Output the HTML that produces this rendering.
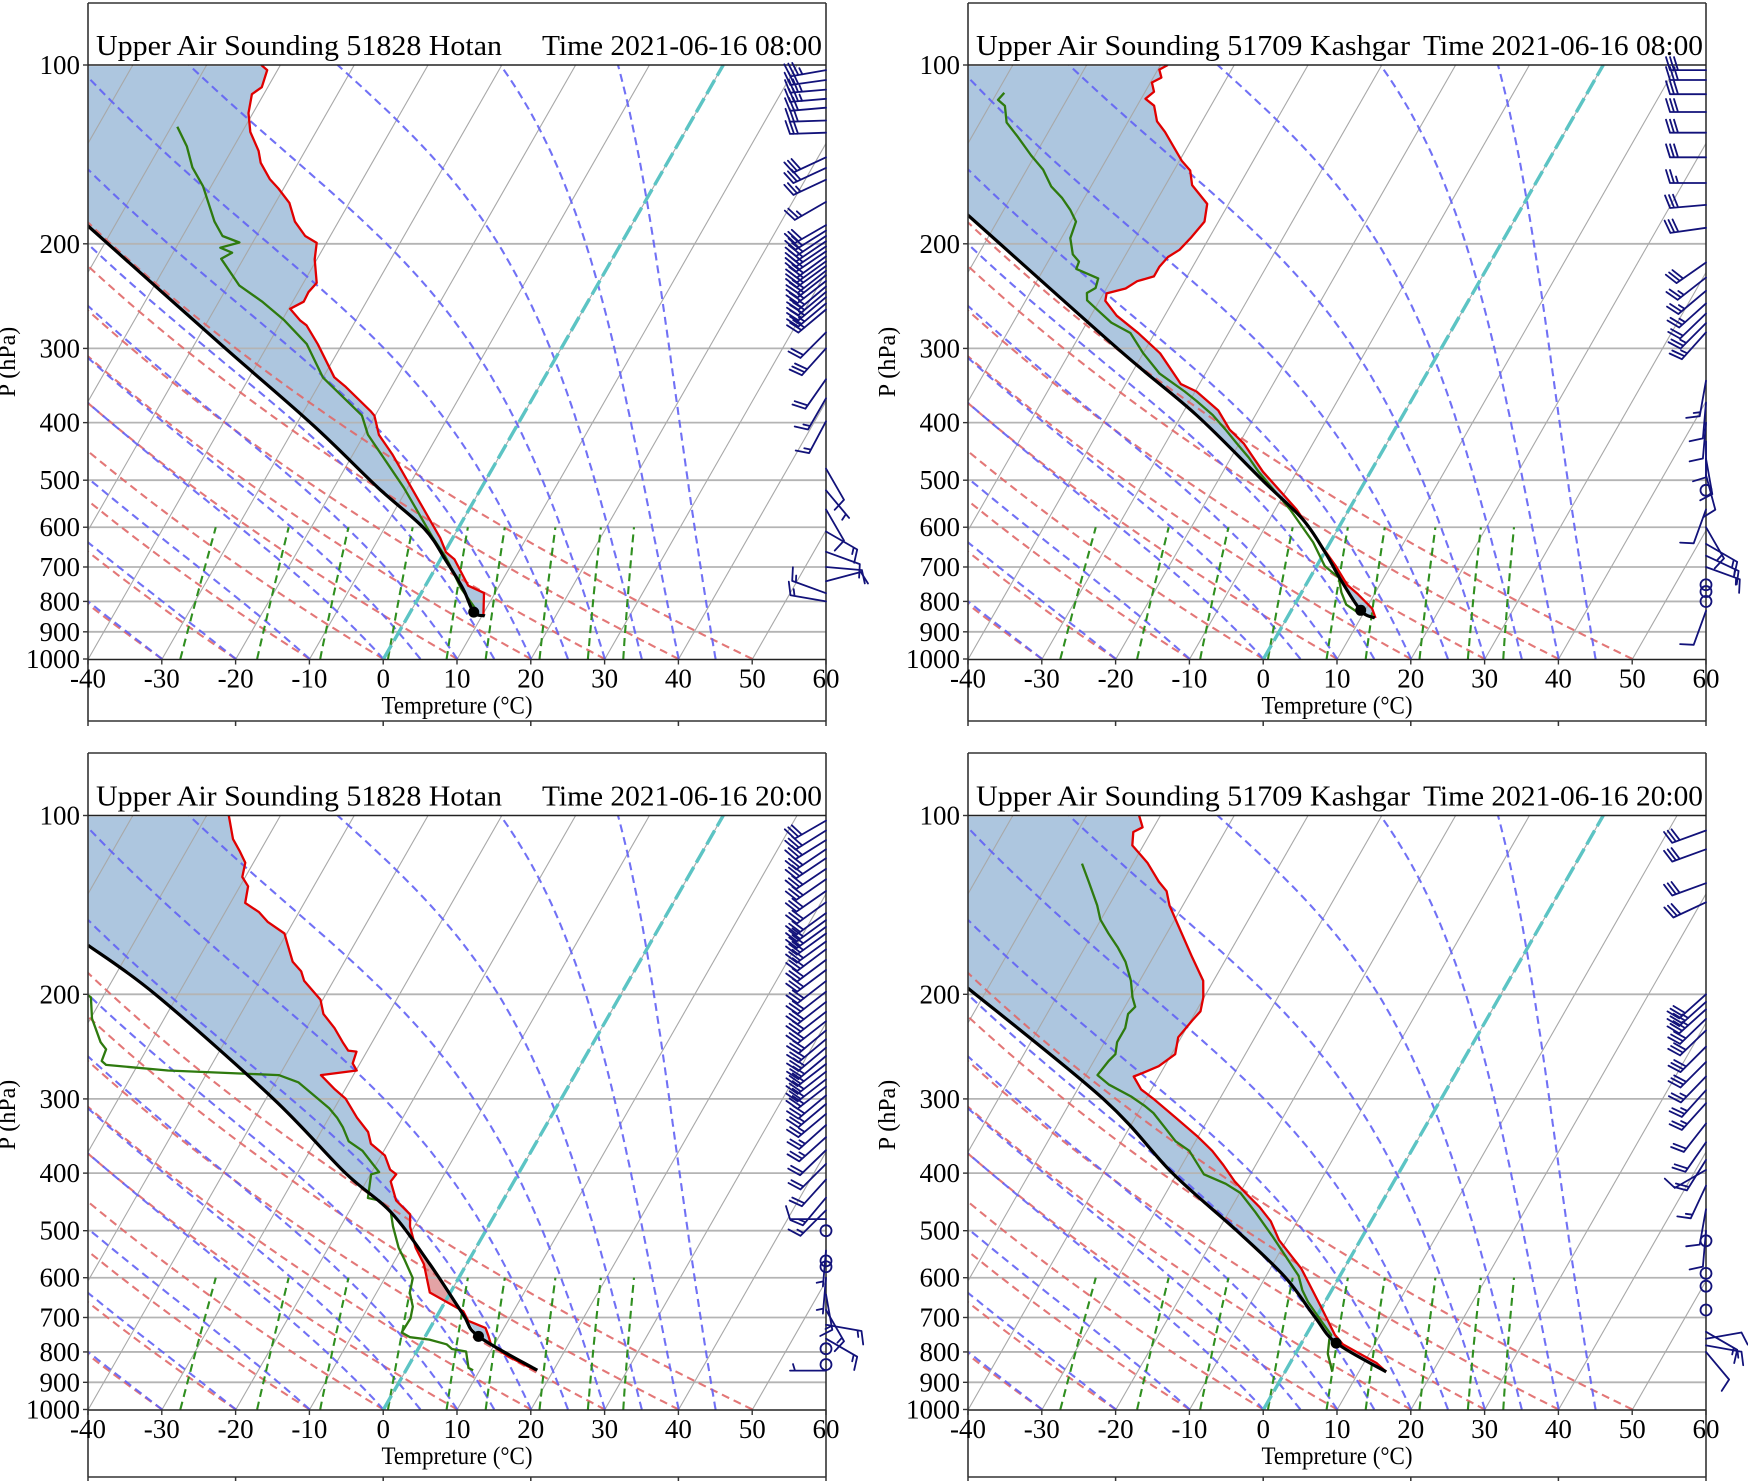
<!DOCTYPE html>
<html><head><meta charset="utf-8"><title>Upper Air Soundings</title>
<style>
html,body{margin:0;padding:0;background:#fff;}
svg{display:block;font-family:"Liberation Serif","DejaVu Serif",serif;}
</style></head>
<body>
<svg id="chart" width="1748" height="1481" viewBox="0 0 1748 1481" xmlns="http://www.w3.org/2000/svg"></svg>
<script>
// ---------- shared axis data ----------
const pressureTicks = [100,200,300,400,500,600,700,800,900,1000];
const tempTicks = [-40,-30,-20,-10,0,10,20,30,40,50,60];
const isothermValues = [-110,-100,-90,-80,-70,-60,-50,-40,-30,-20,-10,0,10,20,30,40,50,60];
const dryAdiabatT0 = [-30,-20,-10,0,10,20,30,40,50];
const moistAdiabatT0 = [-30,-20,-10,0,5,10,15,20,25,30,35,40,45];
const mixingRatios = [0.0004,0.001,0.002,0.004,0.007,0.01,0.016,0.024,0.032];

// ---------- Panel 1: Hotan 08:00 ----------
const hotan08Temp = [[100,-62.6],[102,-61.4],[109,-60.8],[112,-61.6],[120.5,-60.6],[129.6,-58.9],[139.5,-56.3],[146.1,-55.1],[155.6,-52.6],[161.4,-50.7],[170.7,-48.1],[183.5,-45.9],[194,-43.4],[199.3,-41.3],[212.4,-40.3],[232.7,-38.2],[241.3,-38.6],[250.3,-38.5],[257.3,-39.8],[269.3,-37.5],[274.3,-36.3],[295.1,-33.3],[335.6,-28.5],[348.3,-26.2],[382.2,-21.0],[389.3,-20.1],[419.3,-18],[451.9,-14.7],[514.7,-9.5],[625.3,-1.7],[661.1,0.2],[679.7,1.9],[752.6,5.8],[774.1,8.5],[846,10.2]];
const hotan08Dew = [[127,-69.2],[137,-66.4],[148.7,-64],[160,-61.1],[183.5,-56.8],[194,-54.6],[199,-51.8],[203,-54],[207,-52],[212,-53],[235,-48.5],[250,-44.2],[269,-39.7],[295,-34.8],[336,-30],[389,-21.8],[419,-19.5],[515,-10.5],[625,-2.7],[670,0.3],[691,1.5],[760,5],[820,8.4],[840,9.0]];
const hotan08Parcel = [[186.3,-73.7],[295,-46.5],[403,-27.8],[515,-14],[603,-4.6],[684,0.9],[763,5.4],[834,8.6],[846,10.4]];
const hotan08Lcl = [834,8.6];
const hotan08WindP = [102,106,110,114,118,124,130,143,149,156,170,186,190,194,198,202,206,210,214,218,222,226,231,236,241,246,252,258,282,300,338,364,398,478,520,560,610,660,700,740,775,800];
const hotan08WindDir = [260,262,265,265,265,268,268,245,245,245,240,240,238,236,236,236,236,234,234,234,232,232,232,230,230,230,230,230,225,222,215,210,208,150,140,150,120,110,95,75,290,280];
const hotan08WindSpd = [35,30,35,35,30,30,30,30,30,25,25,30,30,30,25,25,30,30,25,25,30,30,25,25,30,25,25,30,20,30,20,15,15,10,5,10,15,10,10,10,15,15];

// ---------- Panel 2: Kashgar 08:00 ----------
const kashgar08Temp = [[100,-59],[101.8,-59.8],[105,-58.9],[107,-59.8],[110.9,-58.8],[114,-59.4],[117.1,-57.7],[124.4,-56.1],[129.6,-54.2],[144.9,-49.7],[150.5,-47.8],[159.3,-46.4],[171.3,-42.9],[183.5,-41.9],[195.6,-42.5],[204.7,-43.1],[210.5,-44.1],[218.5,-44.5],[226.9,-44.5],[231.2,-46.4],[237.8,-47.4],[242.4,-49.6],[249.4,-49.2],[264.3,-46.5],[282.8,-42.2],[305.7,-37.7],[344.5,-32.5],[354.6,-29.8],[381.5,-25.4],[410.6,-22.4],[433.5,-19.4],[483.8,-14.6],[560.1,-7.1],[636.5,-1.5],[697.5,2.6],[750.4,5.6],[778.3,7.8],[822.2,10.8],[853,12]];
const kashgar08Dew = [[111.4,-79],[114.5,-79.3],[117.2,-77.9],[124.9,-76.4],[132,-73.8],[142,-70.5],[150,-67.8],[160.1,-65.4],[167.5,-63],[175.3,-61],[183.5,-59.3],[195.6,-58.8],[208.4,-57.2],[214.3,-55.8],[220.4,-55.6],[228.7,-51.9],[237.4,-51.5],[242,-52.3],[249,-51.7],[258.7,-49.5],[271.4,-46.7],[282.6,-43.3],[305.6,-40],[330.8,-36.2],[354.6,-31.4],[367.7,-29.1],[388.3,-25.8],[410.4,-23],[433.8,-20.3],[458,-17.6],[483.7,-15.2],[560,-8],[636.4,-2.3],[697.5,1.1],[729.4,3.9],[772.4,5.4],[810,7],[841,9.7]];
const kashgar08Parcel = [[178.5,-74.6],[300.8,-43.7],[388.3,-28],[501.9,-13.8],[580.8,-5.6],[660,0],[736.8,4.4],[829.9,9.5],[852.8,11.9]];
const kashgar08Lcl = [828,9.4];
const kashgar08WindP = [102,106,112,120,130,143,158,172,188,215,228,240,252,262,272,282,340,370,400,430,460,490,520,560,600,640,670,700,750,770,800,830];
const kashgar08WindDir = [270,270,270,270,270,270,270,265,262,235,232,230,228,226,225,222,190,185,185,180,170,165,0,200,150,120,115,110,0,0,0,200];
const kashgar08WindSpd = [30,30,30,30,30,30,25,30,30,30,25,25,25,20,25,25,15,10,10,10,10,10,0,10,15,15,15,15,0,0,0,10];

// ---------- Panel 3: Hotan 20:00 ----------
const hotan20Temp = [[100,-67],[104.7,-65.8],[109.6,-64.6],[114.7,-62.8],[120.1,-61.1],[126.9,-60.4],[131.6,-58.9],[140.3,-58],[145.5,-55.4],[151,-53.5],[158,-50.3],[164,-49.2],[176.3,-47],[183,-45.1],[189.7,-44],[204.2,-40.3],[215.8,-38.8],[228,-36.2],[240.8,-34],[248.8,-32.6],[249.7,-31.4],[261.4,-31],[268.7,-29.9],[273.6,-34.4],[289.1,-31.4],[299.9,-29.2],[322.7,-26.2],[341,-23.6],[356.9,-22.3],[373.6,-19.5],[394.6,-17.7],[401.9,-16.5],[413.1,-16.7],[444.6,-14.5],[469.6,-11.5],[491.7,-10.6],[533.8,-8.2],[569.1,-5.8],[635.3,-2.8],[659,0.2],[683.5,3.2],[709,4.6],[728.7,7.5],[751.6,8.5],[776.7,9.5],[813.2,12.7],[859,17.6]];
const hotan20Dew = [[200.6,-72.2],[202.3,-71.6],[219.7,-69.8],[240.8,-66.8],[247.5,-65.5],[259,-65.2],[262.9,-64.3],[268.7,-55.5],[273.6,-40.1],[281.3,-36.9],[294.4,-34.1],[311.1,-30.7],[322.7,-28.9],[334.6,-27.4],[353.6,-25.5],[366.8,-22.9],[387.6,-20.3],[398.4,-19],[401.9,-19.9],[440.5,-18.5],[444.6,-16.8],[465.3,-14.3],[491.7,-12.9],[533.8,-10.5],[558.8,-8.8],[601.2,-6.2],[635.3,-5.5],[671.1,-4],[702.6,-3.4],[742,-3.5],[755.7,-2],[762.7,0.8],[776.7,3.5],[791.1,4.6],[798.5,6.7],[851.1,8.3],[859,9.1]];
const hotan20Parcel = [[165.4,-76],[200.6,-62.9],[299.9,-39],[400.5,-23.4],[465.3,-14.3],[569.1,-5],[689.7,3.3],[753,7.2],[859,17.8]];
const hotan20Lcl = [753,7.2];
const hotan20WindP = [102,106,110,114,118,123,128,134,140,146,150,154,158,163,168,175,182,190,198,206,214,222,230,238,246,254,262,270,278,286,296,306,318,332,348,366,386,410,440,462,478,500,540,562,575,600,640,680,720,760,790,840,860];
const hotan20WindDir = [240,238,238,236,236,236,235,235,234,234,234,234,234,234,233,233,233,232,232,232,232,232,230,230,230,230,232,232,232,232,230,230,230,228,228,226,225,222,220,225,270,0,185,0,0,185,170,150,100,120,0,0,270];
const hotan20WindSpd = [30,30,30,30,30,30,30,30,30,30,30,30,30,30,30,30,30,30,30,30,30,30,30,30,30,30,30,30,30,30,30,25,25,25,25,20,20,20,15,15,10,0,5,0,0,5,15,15,15,15,0,0,5];

// ---------- Panel 4: Kashgar 20:00 ----------
const kashgar20Temp = [[100,-62.9],[104.7,-61.5],[106.6,-62.4],[112.3,-61.5],[120.1,-58.1],[129.2,-55.1],[134.1,-53.3],[141.7,-51.8],[152.6,-49.2],[173.3,-44.7],[189.7,-41.4],[202.3,-40.1],[213.6,-39.4],[221.4,-39.8],[236.3,-40.4],[252.3,-39.5],[264.3,-40.8],[271.5,-42.5],[275,-43.4],[289.1,-41.4],[299.9,-39],[322.7,-34.5],[347.6,-30],[366.8,-27],[387.6,-24.4],[412.9,-21.6],[432,-19.2],[456.4,-16.2],[482.1,-13.6],[518.8,-11],[548.1,-8.4],[579.1,-5.8],[671.1,-0.2],[748.9,3.9],[776.7,5.7],[834.9,11.7],[864,13.7]];
const kashgar20Dew = [[120.5,-66.9],[129.2,-64.6],[141.7,-61.6],[149.6,-60.1],[158,-57.9],[167,-55.5],[176.3,-53.4],[189.7,-51.2],[202.3,-49.7],[209.9,-48.6],[215.8,-49],[228,-48.3],[236.3,-48.3],[240.8,-48.3],[252.3,-47.6],[259,-48],[273.6,-48.4],[283.9,-46.1],[297.2,-42.2],[308.3,-39.6],[316.8,-37.9],[334.6,-35.3],[353.6,-32.7],[366.8,-30.1],[401.9,-26.3],[416.9,-22.6],[432,-19.9],[465.3,-16.4],[510,-12.3],[595.6,-5.6],[629.5,-4],[659,-2.3],[696.1,0.1],[748.9,3.4],[762.7,3.5],[805.8,4.4],[864,6.4]];
const kashgar20Parcel = [[195,-72.8],[299.9,-45.8],[400.5,-30.6],[500.7,-17.4],[597.8,-7.4],[698.8,-0.2],[772.6,4.7],[864,13.7]];
const kashgar20Lcl = [773,4.7];
const kashgar20WindP = [106,114,130,140,200,206,212,220,230,245,260,275,290,305,330,355,380,395,420,460,500,520,590,620,680,740,760,780,800];
const kashgar20WindDir = [250,250,250,245,228,228,228,226,226,225,225,224,222,222,218,215,212,240,205,190,185,0,0,0,0,120,80,100,140];
const kashgar20WindSpd = [30,30,30,30,30,35,35,30,30,30,30,25,25,25,20,20,20,10,15,10,10,0,0,0,0,15,10,15,10];

// ---------- layout ----------
const NS = 'http://www.w3.org/2000/svg';
const svg = document.getElementById('chart');
const panels = [
  {key:'hotan-0800', xL:88, y100:65, y1000:659.5, top:3, bot:721, titleA:'Upper Air Sounding  51828 Hotan', titleALen:406, titleB:'Time 2021-06-16 08:00', titleBX:542, titleBLen:280,
   temp:hotan08Temp, dew:hotan08Dew, parcel:hotan08Parcel, lcl:hotan08Lcl, wp:hotan08WindP, wd:hotan08WindDir, ws:hotan08WindSpd},
  {key:'kashgar-0800', xL:968, y100:65, y1000:659.5, top:3, bot:721, titleA:'Upper Air Sounding  51709 Kashgar', titleALen:434, titleB:'Time 2021-06-16 08:00', titleBX:1423, titleBLen:280,
   temp:kashgar08Temp, dew:kashgar08Dew, parcel:kashgar08Parcel, lcl:kashgar08Lcl, wp:kashgar08WindP, wd:kashgar08WindDir, ws:kashgar08WindSpd},
  {key:'hotan-2000', xL:88, y100:815.5, y1000:1410, top:753, bot:1477, titleA:'Upper Air Sounding  51828 Hotan', titleALen:406, titleB:'Time 2021-06-16 20:00', titleBX:542, titleBLen:280,
   temp:hotan20Temp, dew:hotan20Dew, parcel:hotan20Parcel, lcl:hotan20Lcl, wp:hotan20WindP, wd:hotan20WindDir, ws:hotan20WindSpd},
  {key:'kashgar-2000', xL:968, y100:815.5, y1000:1410, top:753, bot:1477, titleA:'Upper Air Sounding  51709 Kashgar', titleALen:434, titleB:'Time 2021-06-16 20:00', titleBX:1423, titleBLen:280,
   temp:kashgar20Temp, dew:kashgar20Dew, parcel:kashgar20Parcel, lcl:kashgar20Lcl, wp:kashgar20WindP, wd:kashgar20WindDir, ws:kashgar20WindSpd}
];
const PXT = 7.38, SKEW = 0.572, DEC = 594;

function el(tag, attrs, parent){
  const e = document.createElementNS(NS, tag);
  for (const k in attrs) e.setAttribute(k, attrs[k]);
  (parent||svg).appendChild(e);
  return e;
}
function yOf(P,p){ return P.y100 + (Math.log10(p)-2)*DEC; }
function xOf(P,T,p){ return P.xL + (T+40)*PXT + SKEW*(P.y1000 - yOf(P,p)); }
function pathFrom(P, pts){ return pts.map((q,i)=>(i?'L':'M')+xOf(P,q[1],q[0]).toFixed(1)+','+yOf(P,q[0]).toFixed(1)).join(''); }
function smoothPath(P, pts){
  const s = pts.map(q=>[xOf(P,q[1],q[0]), yOf(P,q[0])]);
  let d = 'M'+s[0][0].toFixed(1)+','+s[0][1].toFixed(1);
  for (let i=0;i<s.length-1;i++){
    const p0=s[Math.max(0,i-1)], p1=s[i], p2=s[i+1], p3=s[Math.min(s.length-1,i+2)];
    const c1=[p1[0]+(p2[0]-p0[0])/6, p1[1]+(p2[1]-p0[1])/6];
    const c2=[p2[0]-(p3[0]-p1[0])/6, p2[1]-(p3[1]-p1[1])/6];
    d += 'C'+c1[0].toFixed(1)+','+c1[1].toFixed(1)+' '+c2[0].toFixed(1)+','+c2[1].toFixed(1)+' '+p2[0].toFixed(1)+','+p2[1].toFixed(1);
  }
  return d;
}
function interp(arr, p){
  const s = arr.slice().sort((a,b)=>a[0]-b[0]);
  if (p <= s[0][0]) return null;
  if (p >= s[s.length-1][0]) return s[s.length-1][1];
  for (let i=0;i<s.length-1;i++){
    if (p>=s[i][0] && p<=s[i+1][0]){
      const f=(Math.log(p)-Math.log(s[i][0]))/(Math.log(s[i+1][0])-Math.log(s[i][0]));
      return s[i][1]+f*(s[i+1][1]-s[i][1]);
    }
  }
  return null;
}
function moistDT(p,T){
  const Tc=T-273.15, es=6.112*Math.exp(17.67*Tc/(Tc+243.5)), rs=0.622*es/(p-es);
  const Lv=2.501e6, Rd=287.04;
  return (Rd*T+Lv*rs)/(1005.7+Lv*Lv*rs*0.622/(Rd*T*T))/p;
}
function moistProfile(T0){
  let T=T0+273.15; const pts=[[1000,T0]];
  for (let p=1000; p>100; p-=5){
    const h=-5, k1=moistDT(p,T), k2=moistDT(p+h/2,T+h/2*k1);
    T += h*k2; pts.push([p+h, T-273.15]);
  }
  return pts;
}
function dewFromW(w,p){ const e=p*w/(0.622+w), l=Math.log(e/6.112); return 243.5*l/(17.67-l); }

panels.forEach((P, idx) => {
  const xR = P.xL + 738;
  const g = el('g', {});
  
  
  const cid = 'clip'+idx;
  const defs = el('defs', {}, g);
  const cp = el('clipPath', {id:cid}, defs);
  el('rect', {x:P.xL, y:P.y100, width:738, height:P.y1000-P.y100}, cp);
  const plot = el('g', {'clip-path':'url(#'+cid+')'}, g);
  
  

  // CAPE/CIN shading
  const fillG = el('g', {}, plot);
  
  
  const pSurf = Math.max(...P.temp.map(q=>q[0]));
  const N = 500, grid = [];
  for (let i=0;i<=N;i++){ const p = pSurf*Math.pow(100/pSurf, i/N); grid.push(p); }
  const rows = grid.map(p => {
    const t = interp(P.temp,p); let pc = interp(P.parcel,p);
    if (pc===null) pc = -160;
    return {p, t, pc, d: t - pc};
  }).filter(r=>r.t!==null);
  let run = [rows[0]];
  function flush(r){
    if (r.length<2) return;
    const sign = r.reduce((a,b)=>a+b.d,0) >= 0;
    const pts = r.map(q=>xOf(P,q.t,q.p).toFixed(1)+','+yOf(P,q.p).toFixed(1))
      .concat(r.slice().reverse().map(q=>xOf(P,q.pc,q.p).toFixed(1)+','+yOf(P,q.p).toFixed(1)));
    const poly = el('polygon', {points:pts.join(' '), fill: sign ? '#adc6df' : '#e3a3a5', stroke:'none'}, fillG);
    
    
  }
  for (let i=1;i<rows.length;i++){
    const a = rows[i-1], b = rows[i];
    if ((a.d>=0) !== (b.d>=0)) { run.push(b); flush(run); run=[b]; }
    else run.push(b);
  }
  flush(run);

  // horizontal isobars
  pressureTicks.forEach(p => {
    if (p===100||p===1000) return;
    const l = el('line', {x1:P.xL, x2:xR, y1:yOf(P,p), y2:yOf(P,p), stroke:'#b4b4b4', 'stroke-width':1.8}, plot);
    
    
  });
  // isotherms
  isothermValues.forEach(T => {
    const l = el('line', {x1:xOf(P,T,1000), y1:yOf(P,1000), x2:xOf(P,T,100), y2:yOf(P,100), stroke:'#a8a8a8', 'stroke-width':1.1}, plot);
    
    
  });
  // dry adiabats
  dryAdiabatT0.forEach(T0 => {
    const pts=[]; for (let p=1000;p>=100;p-=10) pts.push([p,(T0+273.15)*Math.pow(p/1000,0.2857)-273.15]);
    const l = el('path', {d:pathFrom(P,pts), fill:'none', stroke:'#e06868', 'stroke-opacity':0.9, 'stroke-width':2.1, 'stroke-dasharray':'8,5'}, plot);
    
    
  });
  // moist adiabats
  moistAdiabatT0.forEach(T0 => {
    const l = el('path', {d:pathFrom(P,moistProfile(T0)), fill:'none', stroke:'#6262f4', 'stroke-opacity':0.9, 'stroke-width':2.1, 'stroke-dasharray':'8,5'}, plot);
    
    
  });
  // mixing ratio lines
  mixingRatios.forEach(w => {
    const pts=[]; for (let p=1000;p>=600;p-=20) pts.push([p,dewFromW(w,p)]);
    const l = el('path', {d:pathFrom(P,pts), fill:'none', stroke:'#2f8f1f', 'stroke-width':2.1, 'stroke-dasharray':'8,5'}, plot);
    
    
  });
  // zero isotherm
  const zl = el('line', {x1:xOf(P,0,1000), y1:yOf(P,1000), x2:xOf(P,0,100), y2:yOf(P,100), stroke:'#5cc4c4', 'stroke-width':3.4, 'stroke-dasharray':'16,5'}, plot);
  
  

  // profiles
  const tl = el('path', {d:pathFrom(P,P.temp), fill:'none', stroke:'#e00000', 'stroke-width':2.3, 'stroke-linejoin':'round'}, plot);
  
  
  const dl = el('path', {d:pathFrom(P,P.dew), fill:'none', stroke:'#2e7a0e', 'stroke-width':2.3, 'stroke-linejoin':'round'}, plot);
  
  
  const pl = el('path', {d:smoothPath(P,P.parcel), fill:'none', stroke:'#000', 'stroke-width':3.2, 'stroke-linejoin':'round'}, plot);
  
  
  const dot = el('circle', {cx:xOf(P,P.lcl[1],P.lcl[0]), cy:yOf(P,P.lcl[0]), r:5.5, fill:'#000'}, plot);
  
  

  // frame
  const fr = el('g', {}, g);
  
  
  el('line', {x1:P.xL, x2:P.xL, y1:P.top, y2:P.bot, stroke:'#333', 'stroke-width':1.6}, fr);
  el('line', {x1:xR, x2:xR, y1:P.top, y2:P.bot, stroke:'#333', 'stroke-width':1.6}, fr);
  el('line', {x1:P.xL, x2:xR, y1:P.top, y2:P.top, stroke:'#333', 'stroke-width':1.6}, fr);
  el('line', {x1:P.xL, x2:xR, y1:P.bot, y2:P.bot, stroke:'#333', 'stroke-width':1.6}, fr);
  el('line', {x1:P.xL, x2:xR, y1:P.y100, y2:P.y100, stroke:'#222', 'stroke-width':1.6}, fr);
  el('line', {x1:P.xL, x2:xR, y1:P.y1000, y2:P.y1000, stroke:'#222', 'stroke-width':1.6}, fr);
  for (let k=0;k<=5;k++){ const x=P.xL+k*147.6; el('line',{x1:x,x2:x,y1:P.bot,y2:P.bot+5,stroke:'#333','stroke-width':1.5},fr); }

  // y ticks
  pressureTicks.forEach(p => {
    const y = yOf(P,p);
    el('line', {x1:P.xL-5, x2:P.xL, y1:y, y2:y, stroke:'#333', 'stroke-width':1.4}, fr);
    const t = el('text', {x:P.xL-8, y:y+9, 'font-size':27, 'text-anchor':'end', fill:'#000'}, g);
    t.textContent = p;
    
    
  });
  // x ticks
  tempTicks.forEach(T => {
    const x = P.xL + (T+40)*PXT;
    el('line', {x1:x, x2:x, y1:P.y1000, y2:P.y1000+5, stroke:'#333', 'stroke-width':1.4}, fr);
    const t = el('text', {x:x, y:P.y1000+28, 'font-size':27, 'text-anchor':'middle', fill:'#000'}, g);
    t.textContent = T;
    
    
  });
  const xt = el('text', {x:P.xL+369, y:P.y1000+54, 'font-size':25, 'text-anchor':'middle', fill:'#000', textLength:151, lengthAdjust:'spacingAndGlyphs'}, g);
  xt.textContent = 'Tempreture (°C)';
  
  
  const yx = P.xL-73, yy = (P.top+P.bot)/2;
  const yt = el('text', {x:yx, y:yy, 'font-size':24, 'text-anchor':'middle', fill:'#000', transform:'rotate(-90 '+yx+' '+yy+')'}, g);
  yt.textContent = 'P (hPa)';
  
  

  // title
  const ta = el('text', {x:P.xL+8, y:P.y100-10, 'font-size':29, fill:'#000', textLength:P.titleALen, lengthAdjust:'spacingAndGlyphs'}, g);
  ta.textContent = P.titleA;
  
  
  const tb = el('text', {x:P.titleBX, y:P.y100-10, 'font-size':29, fill:'#000', textLength:P.titleBLen, lengthAdjust:'spacingAndGlyphs'}, g);
  tb.textContent = P.titleB;
  
  

  // wind barbs
  const bg = el('g', {stroke:'#12127a', 'stroke-width':1.8, fill:'none', 'stroke-linecap':'round'}, g);
  
  
  P.wp.forEach((p,i) => {
    const bx = xR, by = yOf(P,p), spd = Math.round(P.ws[i]/5)*5;
    if (spd < 5) {
      const c = el('circle', {cx:bx, cy:by, r:5.5}, bg);
      
      
      return;
    }
    const d = P.wd[i]*Math.PI/180, L = 36;
    const ux = Math.sin(d), uy = -Math.cos(d);
    const tx = bx+ux*L, ty = by+uy*L;
    const px = -uy, py = ux;
    let dstr = 'M'+bx.toFixed(1)+','+by.toFixed(1)+'L'+tx.toFixed(1)+','+ty.toFixed(1);
    let n10 = Math.floor(spd/10), half = spd%10 >= 5, pos = 0;
    for (let k=0;k<n10;k++){
      const sx = tx-ux*pos, sy = ty-uy*pos;
      dstr += 'M'+sx.toFixed(1)+','+sy.toFixed(1)+'l'+(px*13+ux*4).toFixed(1)+','+(py*13+uy*4).toFixed(1);
      pos += 4;
    }
    if (half){
      if (n10===0) pos = 5;
      const sx = tx-ux*pos, sy = ty-uy*pos;
      dstr += 'M'+sx.toFixed(1)+','+sy.toFixed(1)+'l'+(px*6.5+ux*2).toFixed(1)+','+(py*6.5+uy*2).toFixed(1);
    }
    const b = el('path', {d:dstr}, bg);
    
    
  });
});
</script>
</body></html>
